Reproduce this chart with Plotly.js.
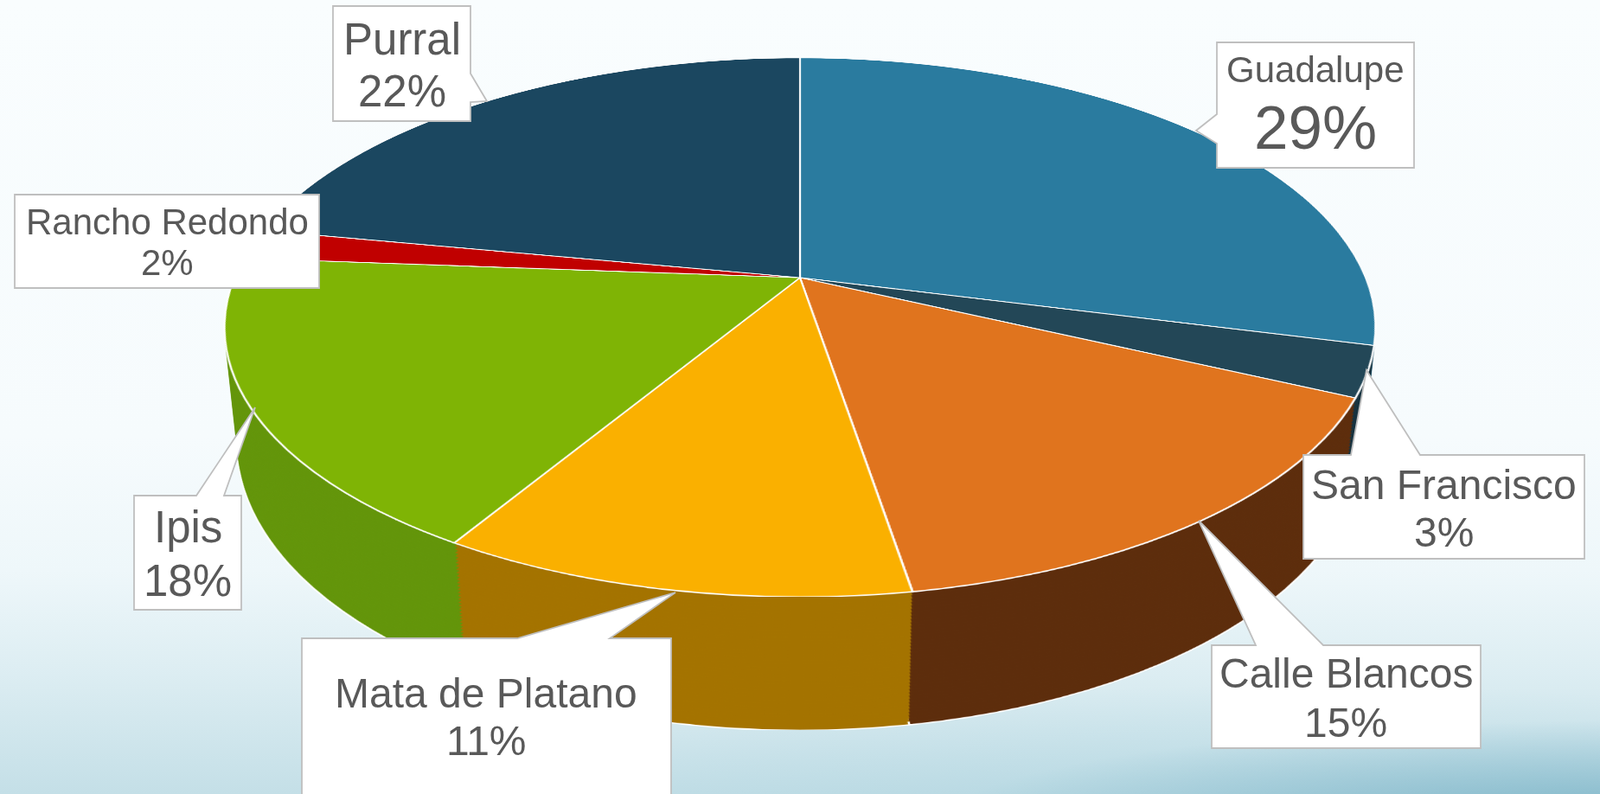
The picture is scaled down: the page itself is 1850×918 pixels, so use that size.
<!DOCTYPE html>
<html>
<head>
<meta charset="utf-8">
<script src="https://cdn.plot.ly/plotly-3.0.1.min.js"></script>
<style>
  html, body { margin:0; padding:0; }
  body {
    width:1850px; height:918px; overflow:hidden; position:relative;
    background:
      radial-gradient(ellipse 1100px 170px at 1900px 960px, rgba(100,165,188,0.75), rgba(100,165,188,0) 75%),
      radial-gradient(ellipse 1400px 260px at 1500px 1000px, rgba(150,200,215,0.45), rgba(150,200,215,0) 80%),
      linear-gradient(to bottom, #f9fdfe 0%, #f6fbfd 55%, #eef7fa 72%, #dcedf2 85%, #c4dfe7 100%);
  }
  .layer { position:absolute; left:271px; top:-333px; width:1308px; height:1308px; transform-origin:50% 50%; }
  #overlay { position:absolute; left:0; top:0; width:1850px; height:918px; }
</style>
</head>
<body>
<div id="layers"></div>
<div id="overlay"></div>
<script>
// ---- data ----
const labels = ['Guadalupe', 'San Francisco', 'Calle Blancos', 'Mata de Platano', 'Ipis', 'Rancho Redondo', 'Purral'];
const values = [29, 3, 15.4, 11.2, 17.6, 1.8, 22];
const topColors  = ['#2A7B9F', '#234757', '#E0741E', '#FAB000', '#7FB405', '#C00000', '#1B4760'];
const sideColors = ['#1E5E7A', '#16323F', '#5D2D0C', '#A47300', '#63950A', '#8A0000', '#102F3F'];

// ---- 3D view parameters (styling) ----
const RADIUS = 654, PERSP = 3144, TILT = 62.6, DEPTH = 155, SIDE_LAYERS = 40;

const layersEl = document.getElementById('layers');
const pieLayout = {
  width: 2 * RADIUS, height: 2 * RADIUS,
  margin: {l: 0, r: 0, t: 0, b: 0},
  paper_bgcolor: 'rgba(0,0,0,0)', plot_bgcolor: 'rgba(0,0,0,0)',
  showlegend: false
};
function pieTrace(colors, lineColor, lineWidth) {
  return {
    type: 'pie', labels: labels, values: values, sort: false,
    direction: 'clockwise', rotation: 0, textinfo: 'none', hoverinfo: 'skip',
    marker: {colors: colors, line: {color: lineColor, width: lineWidth}}
  };
}
function addLayer(z, trace) {
  const d = document.createElement('div');
  d.className = 'layer';
  d.style.transform = 'perspective(' + PERSP + 'px) rotateX(' + TILT + 'deg) translateZ(' + (-z) + 'px)';
  layersEl.appendChild(d);
  Plotly.newPlot(d, [trace], pieLayout, {staticPlot: true, displayModeBar: false});
}
// side wall: stacked darker layers, bottom first
for (let i = 0; i < SIDE_LAYERS; i++) {
  const z = DEPTH - i * DEPTH / SIDE_LAYERS;
  if (i === 0) addLayer(z, pieTrace(sideColors, '#ffffff', 2));
  else addLayer(z, pieTrace(sideColors, 'rgba(0,0,0,0)', 0));
}
// top face
addLayer(0, pieTrace(topColors, '#ffffff', 2.2));

// ---- callout labels ----
const total = values.reduce((a, b) => a + b, 0);
const pctText = values.map(v => Math.round(v / total * 100) + '%');

// box: [x0,y0,x1,y1], wedge: edge + base points + tip, text centers & sizes
const callouts = [
  {box: [1407, 49, 1635, 194], edge: 'left',  base: [132, 166], tip: [1383, 151], cx: 1521, y1: 80,  y2: 147, f1: 42, f2: 71},
  {box: [1507, 526, 1832, 646], edge: 'top',  base: [1562, 1642], tip: [1580, 428], cx: 1669, y1: 560, y2: 615, f1: 48, f2: 48},
  {box: [1401, 746, 1712, 865], edge: 'top',  base: [1452, 1530], tip: [1386, 602], cx: 1556, y1: 778, y2: 835, f1: 48, f2: 48},
  {box: [349, 738, 776, 935],   edge: 'top',  base: [598, 705],   tip: [781, 685],  cx: 562,  y1: 801, y2: 856, f1: 48, f2: 48},
  {box: [155, 573, 279, 705],   edge: 'top',  base: [227, 259],   tip: [295, 471],  cx: 217,  y1: 609, y2: 671, f1: 51, f2: 51},
  {box: [17, 225, 369, 333],    edge: null,   base: null,         tip: null,        cx: 193,  y1: 256, y2: 303, f1: 42, f2: 42},
  {box: [385, 7, 544, 140],     edge: 'right', base: [85, 118],   tip: [563, 117],  cx: 464.5, y1: 45, y2: 105, f1: 51, f2: 51}
];

function calloutPath(c) {
  const [x0, y0, x1, y1] = c.box;
  let p = 'M' + x0 + ',' + y0;
  if (c.edge === 'top') p += ' L' + c.base[0] + ',' + y0 + ' L' + c.tip[0] + ',' + c.tip[1] + ' L' + c.base[1] + ',' + y0;
  p += ' L' + x1 + ',' + y0;
  if (c.edge === 'right') p += ' L' + x1 + ',' + c.base[0] + ' L' + c.tip[0] + ',' + c.tip[1] + ' L' + x1 + ',' + c.base[1];
  p += ' L' + x1 + ',' + y1 + ' L' + x0 + ',' + y1;
  if (c.edge === 'left') p += ' L' + x0 + ',' + c.base[1] + ' L' + c.tip[0] + ',' + c.tip[1] + ' L' + x0 + ',' + c.base[0];
  return p + ' Z';
}

const shapes = callouts.map(c => ({
  type: 'path', xref: 'x', yref: 'y', path: calloutPath(c),
  fillcolor: '#ffffff', line: {color: '#BFBFBF', width: 1.8}, layer: 'above'
}));
const annotations = [];
const textFont = 'Liberation Sans, Arial, sans-serif';
callouts.forEach((c, i) => {
  annotations.push({xref: 'x', yref: 'y', x: c.cx, y: c.y1, text: labels[i], showarrow: false,
    xanchor: 'center', yanchor: 'middle', font: {family: textFont, size: c.f1, color: '#595959'}});
  annotations.push({xref: 'x', yref: 'y', x: c.cx, y: c.y2, text: pctText[i], showarrow: false,
    xanchor: 'center', yanchor: 'middle', font: {family: textFont, size: c.f2, color: '#595959'}});
});

Plotly.newPlot('overlay', [], {
  width: 1850, height: 918,
  margin: {l: 0, r: 0, t: 0, b: 0},
  paper_bgcolor: 'rgba(0,0,0,0)', plot_bgcolor: 'rgba(0,0,0,0)',
  xaxis: {range: [0, 1850], visible: false, fixedrange: true},
  yaxis: {range: [918, 0], visible: false, fixedrange: true},
  shapes: shapes, annotations: annotations, showlegend: false
}, {staticPlot: true, displayModeBar: false});
</script>
</body>
</html>
